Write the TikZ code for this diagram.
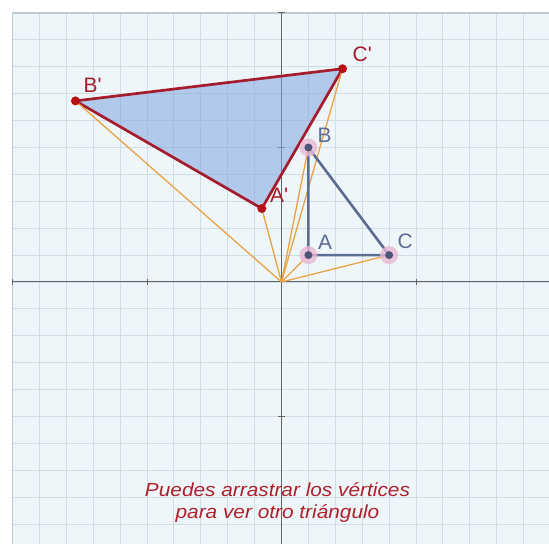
\documentclass[tikz,border=0pt]{standalone}
\usepackage{fontspec}
\setmainfont{Liberation Sans}
\definecolor{bgc}{HTML}{EFF6F9}
\definecolor{gridc}{HTML}{CFDDE4}
\definecolor{framec}{HTML}{BFCBD0}
\definecolor{axisc}{HTML}{5F6668}
\definecolor{redc}{HTML}{A51D2D}
\definecolor{redpt}{HTML}{B80F14}
\definecolor{bluec}{HTML}{5C6C94}
\definecolor{bluept}{HTML}{4E5578}
\definecolor{haloc}{HTML}{E9B8D4}
\definecolor{fillc}{HTML}{7FA6E0}
\definecolor{orangec}{HTML}{E9A246}
\definecolor{textc}{HTML}{B0202C}
\tikzset{
  gridline/.style={draw=gridc, line width=0.9bp},
  axisline/.style={draw=axisc, line width=1bp},
  ray/.style={draw=orangec, line width=1.3bp},
  imgfill/.style={fill=fillc, fill opacity=0.55},
  imgtri/.style={draw=redc, line width=2.7bp, line join=round},
  origtri/.style={draw=bluec, line width=2.6bp, line join=round},
  halo/.style={circle, fill=haloc, fill opacity=0.8, minimum size=18bp, inner sep=0pt},
  origpt/.style={circle, fill=bluept, minimum size=8bp, inner sep=0pt},
  imgpt/.style={circle, fill=redpt, minimum size=9bp, inner sep=0pt},
  imglbl/.style={text=redc, font=\fontsize{21}{21}\selectfont},
  origlbl/.style={text=bluec, font=\fontsize{21}{21}\selectfont},
  note/.style={text=textc, font=\fontsize{19}{22}\selectfont\itshape, anchor=base}
}
\newcommand{\pr}{\textquotesingle}
\begin{document}
\begin{tikzpicture}[x=26.9bp,y=26.9bp]
\useasboundingbox (-10.465,-9.740) rectangle (9.944,10.483);
\fill[white] (-10.465,-9.740) rectangle (9.944,10.483);
\fill[bgc] (-10.0,-9.740) rectangle (9.944,10.0);
% grid
\foreach \x in {-9,...,9} \draw[gridline] (\x,-9.74) -- (\x,10);
\foreach \y in {-9,...,9} \draw[gridline] (-10,\y) -- (9.944,\y);
% frame
\draw[framec, line width=1.3bp] (-10,-9.74) -- (-10,10) -- (9.944,10);
% axes
\draw[axisline] (-10,0) -- (9.944,0);
\draw[axisline] (0,-9.74) -- (0,10);
\foreach \t in {-10,-5,5} \draw[axisline] (\t,-0.12) -- (\t,0.12);
\foreach \t in {-5,5,10} \draw[axisline] (-0.12,\t) -- (0.12,\t);
% points
\coordinate (O) at (0,0);
\coordinate (A) at (1,1);
\coordinate (B) at (1,5);
\coordinate (C) at (4,1);
\coordinate (A') at (-0.732,2.732);
\coordinate (B') at (-7.660,6.732);
\coordinate (C') at (2.268,7.928);
% image triangle
\fill[imgfill] (A') -- (B') -- (C') -- cycle;
\draw[imgtri] (A') -- (B') -- (C') -- cycle;
% rays
\foreach \p in {A,B,C,A',B',C'} \draw[ray] (O) -- (\p);
% original triangle
\draw[origtri] (A) -- (B) -- (C) -- cycle;
% halos and points
\node[halo] (hA) at (A) {};
\node[halo] (hB) at (B) {};
\node[halo] (hC) at (C) {};
\node[origpt] (pA) at (A) {};
\node[origpt] (pB) at (B) {};
\node[origpt] (pC) at (C) {};
\node[imgpt] (pA') at (A') {};
\node[imgpt] (pB') at (B') {};
\node[imgpt] (pC') at (C') {};
% labels
\node[imglbl] (lB') at (-7.02,7.33) {B\pr};
\node[imglbl] (lC') at (3.00,8.48) {C\pr};
\node[imglbl] (lA') at (-0.09,3.22) {A\pr};
\node[origlbl] (lB) at (1.60,5.46) {B};
\node[origlbl] (lA) at (1.62,1.47) {A};
\node[origlbl] (lC) at (4.60,1.52) {C};
% note
\node[note] (n1) at (-0.15,-7.99) {\scalebox{1.1}[1]{Puedes arrastrar los vértices}};
\node[note] (n2) at (-0.15,-8.79) {\scalebox{1.1}[1]{para ver otro triángulo}};
\end{tikzpicture}
\end{document}
